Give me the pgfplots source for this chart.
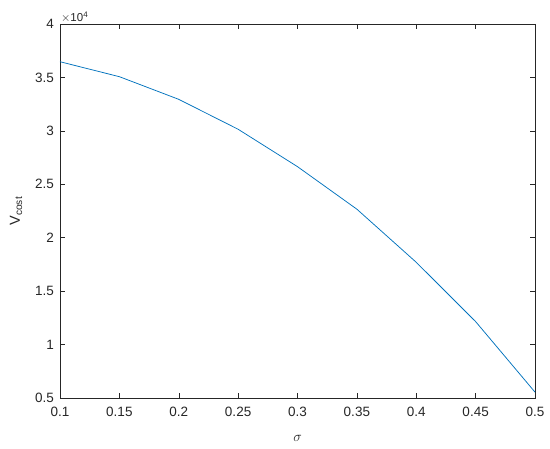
\documentclass[border=0pt]{standalone}
\usepackage{pgfplots}
\pgfplotsset{compat=1.18}
\usepackage{fontspec}
\setmainfont{Liberation Sans}
\definecolor{mblue}{RGB}{0,114,189}
\definecolor{axgray}{RGB}{38,38,38}
\begin{document}
\begin{tikzpicture}
\begin{axis}[
  name=ax,
  scale only axis,
  width=475bp, height=374bp,
  xmin=0.1, xmax=0.5, ymin=5000, ymax=40000,
  xtick={0.1,0.15,...,0.5},
  xticklabels={0.1,0.15,0.2,0.25,0.3,0.35,0.4,0.45,0.5},
  ytick={5000,10000,...,40000},
  yticklabels={0.5,1,1.5,2,2.5,3,3.5,4},
  scaled y ticks=false,
  tick align=inside,
  tick pos=both,
  major tick length=5bp,
  axis line style={axgray, line width=0.5pt},
  every tick/.style={axgray, line width=0.5pt},
  tick label style={font=\fontsize{13.5bp}{16bp}\selectfont, text=axgray},
  xticklabel style={yshift=-6bp},
  yticklabel style={xshift=-2.5bp},
  /pgf/number format/assume math mode=true,
  xlabel={\fontsize{15bp}{17bp}\selectfont$\sigma$},
  ylabel={\fontsize{14.5bp}{17bp}\selectfont V\textsubscript{cost}},
  label style={text=axgray},
  xlabel style={at={(rel axis cs:0.5,0)}, anchor=center, yshift=-40bp},
  ylabel style={at={(rel axis cs:0,0.5)}, anchor=center, xshift=0bp, yshift=44bp},
  clip=false,
]
\addplot[mblue, line width=0.75pt] coordinates {
 (0.10,36470) (0.15,35070) (0.20,32950) (0.25,30150) (0.30,26650)
 (0.35,22670) (0.40,17700) (0.45,12150) (0.50,5550)
};
\node[anchor=south west, inner sep=1bp, font=\fontsize{11.5bp}{13bp}\selectfont, text=axgray] at (rel axis cs:0,1) {$\times$10\textsuperscript{4}};
\end{axis}
\pgfresetboundingbox
\path[use as bounding box] ([shift={(-60bp,-50bp)}]ax.south west) rectangle ([shift={(15bp,24bp)}]ax.north east);
\end{tikzpicture}
\end{document}
